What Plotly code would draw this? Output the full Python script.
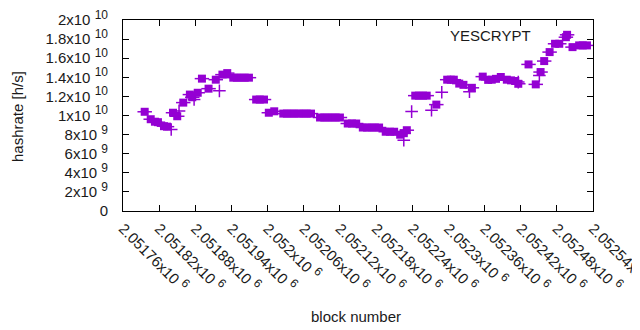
import plotly.graph_objects as go

# --- data ---
sq_block = [2051796, 2051806, 2051813, 2051818, 2051828, 2051833, 2051843, 2051850,
            2051860, 2051871, 2051875, 2051884, 2051891, 2051902, 2051914, 2051925,
            2051933, 2051943, 2051949, 2051956, 2051962, 2051969, 2051981, 2051987,
            2051994, 2052002, 2052011, 2052026, 2052032, 2052039, 2052045, 2052052,
            2052059, 2052065, 2052072, 2052087, 2052094, 2052100, 2052107, 2052113,
            2052120, 2052133, 2052140, 2052147, 2052158, 2052165, 2052172, 2052178,
            2052185, 2052196, 2052203, 2052210, 2052220, 2052226, 2052231, 2052245,
            2052251, 2052258, 2052264, 2052280, 2052298, 2052304, 2052309, 2052318,
            2052325, 2052339, 2052357, 2052366, 2052372, 2052379, 2052387, 2052397,
            2052404, 2052411, 2052416, 2052433, 2052445, 2052453, 2052459, 2052468,
            2052477, 2052484, 2052495, 2052497, 2052506, 2052517, 2052523, 2052530]
sq_hash_g = [10.39, 9.61, 9.35, 9.30, 8.88, 8.83, 10.29, 9.92,
             11.35, 12.19, 11.91, 12.38, 13.86, 12.81, 13.75, 14.28,
             14.44, 13.96, 13.96, 13.96, 13.96, 13.96, 11.67, 11.67,
             11.67, 10.29, 10.44, 10.20, 10.20, 10.20, 10.20, 10.20,
             10.20, 10.20, 10.20, 9.79, 9.79, 9.79, 9.79, 9.79,
             9.79, 9.16, 9.16, 9.16, 8.74, 8.74, 8.74, 8.74,
             8.74, 8.30, 8.30, 8.30, 7.99, 8.15, 8.46, 12.08,
             12.08, 12.08, 12.08, 11.14, 13.75, 13.75, 13.75, 13.34,
             13.21, 12.90, 14.07, 13.73, 13.75, 13.84, 14.03, 13.75,
             13.68, 13.61, 13.32, 15.35, 13.26, 14.55, 15.70, 16.64,
             17.51, 17.51, 18.20, 18.45, 17.16, 17.34, 17.34, 17.34]
cr_block = [2051840, 2051853, 2051878, 2051920, 2052226, 2052239, 2052272,
            2052289, 2052335, 2052416, 2052451]
cr_hash_g = [8.53, 10.48, 11.67, 12.58, 7.42, 10.41, 10.55,
             12.43, 12.48, 13.50, 14.20]

x_ticks = [2051760 + 60 * i for i in range(14)]
x_ticktext = ["2.05176", "2.05182", "2.05188", "2.05194", "2.052", "2.05206", "2.05212",
              "2.05218", "2.05224", "2.0523", "2.05236", "2.05242", "2.05248", "2.05254"]
y_ticks = [0, 2e9, 4e9, 6e9, 8e9, 1e10, 1.2e10, 1.4e10, 1.6e10, 1.8e10, 2e10]
y_mant = ["0", "2", "4", "6", "8", "1", "1.2", "1.4", "1.6", "1.8", "2"]
y_exp = [None, 9, 9, 9, 9, 10, 10, 10, 10, 10, 10]


def sci(mant, exp):
    if exp is None:
        return mant
    return f"{mant}x10 <sup><span style='font-size:12px'>{exp}</span></sup>"


COLOR = "#9400D3"
FONT = "Liberation Sans, Arial, sans-serif"
TXT = "#1a1a1a"

fig = go.Figure()
fig.add_trace(go.Scatter(
    x=sq_block, y=[v * 1e9 for v in sq_hash_g], mode="markers",
    marker=dict(symbol="square", size=8, color=COLOR, line=dict(width=0)),
    error_x=dict(type="constant", value=12, color=COLOR, thickness=1.5, width=0),
    showlegend=False))
fig.add_trace(go.Scatter(
    x=cr_block, y=[v * 1e9 for v in cr_hash_g], mode="markers",
    marker=dict(symbol="cross-thin", size=9, color=COLOR, line=dict(width=1.5, color=COLOR)),
    showlegend=False))

fig.add_annotation(x=(533 - 123) / 470, y=1 - (25 - 20) / 191, xref="paper", yref="paper",
                   text="YESCRYPT", showarrow=False, xanchor="right", yanchor="top",
                   font=dict(family=FONT, size=15, color=TXT))
fig.add_annotation(x=(17 - 123) / 470, y=(211 - 117) / 191, xref="paper", yref="paper",
                   text="hashrate [h/s]", showarrow=False, textangle=-90,
                   xanchor="center", yanchor="middle",
                   font=dict(family=FONT, size=15, color=TXT))
fig.add_annotation(x=(356 - 123) / 470, y=(211 - 316) / 191, xref="paper", yref="paper",
                   text="block number", showarrow=False,
                   xanchor="center", yanchor="middle",
                   font=dict(family=FONT, size=15, color=TXT))

fig.update_xaxes(range=[2051760, 2052540], tickmode="array", tickvals=x_ticks,
                 ticktext=[sci(t, 6) for t in x_ticktext], tickangle=45,
                 ticks="inside", ticklen=6, tickcolor="#000", showline=True, linecolor="#000",
                 linewidth=1, mirror="allticks", showgrid=False, zeroline=False,
                 automargin=False, ticklabelstandoff=2, ticklabeloverflow="allow",
                 tickfont=dict(family=FONT, size=15, color=TXT))
fig.update_yaxes(range=[0, 2e10], tickmode="array", tickvals=y_ticks,
                 ticktext=[sci(m, e) for m, e in zip(y_mant, y_exp)],
                 ticks="inside", ticklen=6, tickcolor="#000", showline=True, linecolor="#000",
                 linewidth=1, mirror="allticks", showgrid=False, zeroline=False,
                 automargin=False, ticklabelstandoff=11, ticklabeloverflow="allow",
                 tickfont=dict(family=FONT, size=15, color=TXT))

# page body has an 8px margin: figure placed so the plot area lands at x 123-593, y 20-211
fig.update_layout(width=632, height=322, margin=dict(l=115, r=47, t=12, b=119),
                  paper_bgcolor="white", plot_bgcolor="white",
                  font=dict(family=FONT, size=15, color=TXT))
fig.write_html("out.html")
